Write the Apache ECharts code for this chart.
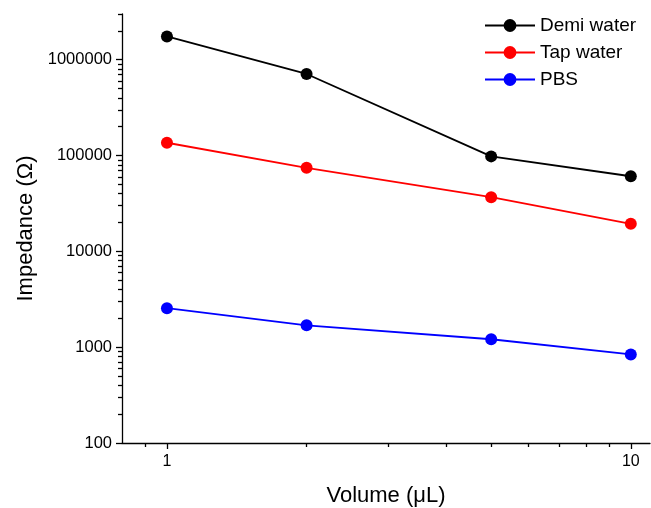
<!DOCTYPE html>
<html>
<head>
<meta charset="utf-8">
<script src="https://cdn.jsdelivr.net/npm/echarts@6/dist/echarts.min.js"></script>
<style>
  html, body { margin: 0; padding: 0; background: #fff; }
  #chart { width: 651px; height: 508px; }
</style>
</head>
<body>
<div id="chart"></div>
<script>
// Electrode impedance versus droplet volume for three liquids
const volumes = [1, 2, 5, 10];
const demiWater = [1750000, 710000, 98000, 60800];
const tapWater = [136000, 74500, 36800, 19400];
const pbs = [2550, 1690, 1210, 840];

const xTicks = [1, 10];
const xMinorTicks = [0.9, 2, 3, 4, 5, 6, 7, 8, 9];
const yTicks = [100, 1000, 10000, 100000, 1000000];
const yMinorTicks = [];
for (let d = 100; d <= 1000000; d *= 10) {
  for (let m = 2; m <= 9; m++) {
    if (d * m <= 3000000) yMinorTicks.push(d * m);
  }
}

const font = 'Liberation Sans, Arial, sans-serif';
const pairs = ys => volumes.map((v, i) => [v, ys[i]]);

const chart = echarts.init(document.getElementById('chart'));

const grid = { left: 122, top: 14, right: 1, bottom: 65, containLabel: false, outerBoundsMode: 'none' };
const axisLineStyle = { color: '#000', width: 1.3 };

chart.setOption({
  animation: false,
  backgroundColor: '#fff',
  grid: grid,
  legend: {
    left: 479,
    top: 11,
    orient: 'vertical',
    itemWidth: 50,
    itemHeight: 16,
    itemGap: 8,
    textStyle: { fontFamily: font, fontSize: 19, color: '#000' },
    data: ['Demi water', 'Tap water', 'PBS']
  },
  xAxis: [
    {
      type: 'log', logBase: 10, min: 0.8, max: 11,
      name: 'Volume (\u03bcL)', nameLocation: 'middle', nameGap: 42,
      nameTextStyle: { fontFamily: font, fontSize: 22, color: '#000' },
      axisLine: { lineStyle: axisLineStyle },
      axisTick: { inside: false, length: 6, lineStyle: { color: '#000', width: 1.3 }, customValues: xTicks },
      axisLabel: { fontFamily: font, fontSize: 16, color: '#000', margin: 11, customValues: xTicks,
                   formatter: v => String(Math.round(v)) },
      splitLine: { show: false }
    },
    {
      type: 'log', logBase: 10, min: 0.8, max: 11, position: 'bottom',
      axisLine: { show: false },
      axisTick: { inside: false, length: 4, lineStyle: { color: '#000', width: 1.3 }, customValues: xMinorTicks },
      axisLabel: { show: false },
      splitLine: { show: false }
    }
  ],
  yAxis: [
    {
      type: 'log', logBase: 10, min: 100, max: 3000000,
      name: 'Impedance (\u03a9)', nameLocation: 'middle', nameGap: 78, nameRotate: 90,
      nameTextStyle: { fontFamily: font, fontSize: 22, color: '#000' },
      axisLine: { lineStyle: axisLineStyle },
      axisTick: { inside: false, length: 6, lineStyle: { color: '#000', width: 1.3 }, customValues: yTicks },
      axisLabel: { fontFamily: font, fontSize: 16.5, color: '#000', margin: 10, customValues: yTicks,
                   formatter: v => String(Math.round(v)) },
      splitLine: { show: false }
    },
    {
      type: 'log', logBase: 10, min: 100, max: 3000000, position: 'left',
      axisLine: { show: false },
      axisTick: { inside: false, length: 4, lineStyle: { color: '#000', width: 1.3 }, customValues: yMinorTicks },
      axisLabel: { show: false },
      splitLine: { show: false }
    }
  ],
  series: [
    { name: 'Demi water', color: '#000000', data: pairs(demiWater) },
    { name: 'Tap water', color: '#ff0000', data: pairs(tapWater) },
    { name: 'PBS', color: '#0000ff', data: pairs(pbs) }
  ].map(s => ({
    name: s.name,
    type: 'line',
    xAxisIndex: 0,
    yAxisIndex: 0,
    data: s.data,
    symbol: 'circle',
    symbolSize: 12,
    showAllSymbol: true,
    lineStyle: { color: s.color, width: 1.8 },
    itemStyle: { color: s.color },
    emphasis: { disabled: true }
  }))
});
</script>
</body>
</html>
